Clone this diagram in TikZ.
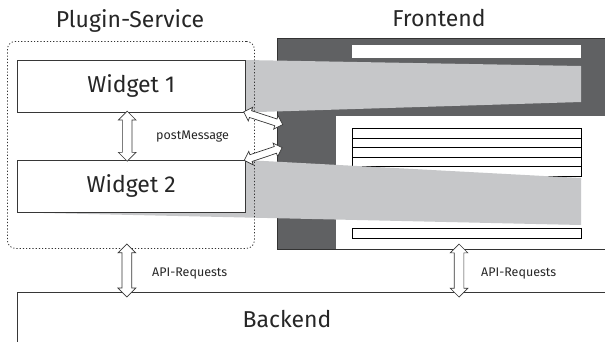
\documentclass[tikz,border=0pt]{standalone}
\usepackage{fontspec}
\setmainfont{Fira Sans}
\usetikzlibrary{shapes,arrows,positioning}

\definecolor{darkgrey}{RGB}{96,97,99}
\definecolor{bandgrey}{RGB}{198,199,201}
\definecolor{linegrey}{RGB}{55,55,55}

\pgfdeclarelayer{page}
\pgfdeclarelayer{band}
\pgfsetlayers{page,band,main}

\tikzstyle{titel} = [font=\fontsize{23}{27}\selectfont, text=black!85, inner sep=0pt]
\tikzstyle{hint} = [font=\fontsize{12.5}{15}\selectfont, text=black!85, inner sep=0pt]
\tikzstyle{widget} = [draw=linegrey, fill=white, rectangle, minimum width=228pt, minimum height=52pt, inner sep=0pt, font=\fontsize{23}{27}\selectfont, text=black!85]
\tikzstyle{dblarrow} = [double arrow, draw=linegrey, fill=white, inner xsep=0pt, inner ysep=4.5pt, double arrow head extend=4pt, line width=0.7pt]
\tikzstyle{smallarrow} = [dblarrow, inner ysep=3.2pt, double arrow head extend=3.6pt]
\tikzstyle{zeile} = [draw=black, fill=white, rectangle, anchor=north west, minimum width=229pt, inner sep=0pt, line width=0.9pt]

\begin{document}
\begin{tikzpicture}[x=1pt, y=-1pt]
	\useasboundingbox (0,0) rectangle (605,341);
	\clip (0,0) rectangle (605,341);

	% frontend window
	\begin{pgfonlayer}{page}
		\node [draw=black!80, fill=darkgrey, rectangle, anchor=north west, minimum width=340pt, minimum height=211pt, line width=0.8pt] (frontend) at (277,38) {};
		\fill [white] (336,116) rectangle (620,248.5);
		\node [fill=white, rectangle, anchor=north west, minimum width=229pt, minimum height=13pt, inner sep=0pt] (topbar) at (352,45) {};
		\foreach \i in {0,...,4}
			\node [zeile, minimum height=9.6pt] (row\i) at (352,{128+9.6*\i}) {};
		\node [zeile, minimum height=10pt] (bottombar) at (352,228) {};
	\end{pgfonlayer}

	% plugin service
	\node [draw=black!80, rectangle, rounded corners=8pt, dash pattern=on 1.2pt off 2pt, line width=0.8pt, anchor=north west, minimum width=247pt, minimum height=207pt] (plugin) at (7,41) {};
	\node [widget, anchor=north west] (w1) at (17,60) {Widget 1};
	\node [widget, anchor=north west] (w2) at (17,160) {Widget 2};

	% projection of the widgets into the page
	\begin{pgfonlayer}{band}
		\fill [bandgrey] (w1.north east) -- (581,66) -- (581,102) -- (w1.south east) -- cycle;
		\fill [bandgrey] (w2.north east) -- (581,178) -- (581,225) -- (w2.south west) -- cycle;
	\end{pgfonlayer}

	% backend
	\node [draw=linegrey, rectangle, anchor=north west, minimum width=620pt, minimum height=80pt, line width=0.8pt] (backend) at (17,292) {};
	\node [titel, anchor=base] (backendtext) at (287,327) {Backend};

	\node [titel, anchor=base] (plugintitle) at (130,27) {Plugin-Service};
	\node [titel, anchor=base] (frontendtitle) at (439,26) {Frontend};

	% messages
	\coordinate (fe1) at (281,124);
	\coordinate (fe2) at (281,148);
	\path ([xshift=-4pt]w1.south) -- ([xshift=-4pt]w2.north) node [midway, sloped, dblarrow, minimum height=50pt] (pm) {};
	\path (w1.south east) -- (fe1) node [midway, sloped, smallarrow, minimum height=41pt] (msg1) {};
	\path (w2.north east) -- (fe2) node [midway, sloped, smallarrow, minimum height=40pt] (msg2) {};
	\node [hint, anchor=base west] (pmlabel) at (156,139) {postMessage};

	% requests
	\path ([xshift=-4pt]plugin.south) -- ([xshift=-4pt]plugin.south |- backend.north) node [midway, sloped, dblarrow, minimum height=53pt] (api1) {};
	\path (459,249) -- (459,292) node [midway, sloped, dblarrow, minimum height=53pt] (api2) {};
	\node [hint, anchor=base west] (api1label) at (152,276) {API-Requests};
	\node [hint, anchor=base west] (api2label) at (481,276) {API-Requests};
\end{tikzpicture}
\end{document}
